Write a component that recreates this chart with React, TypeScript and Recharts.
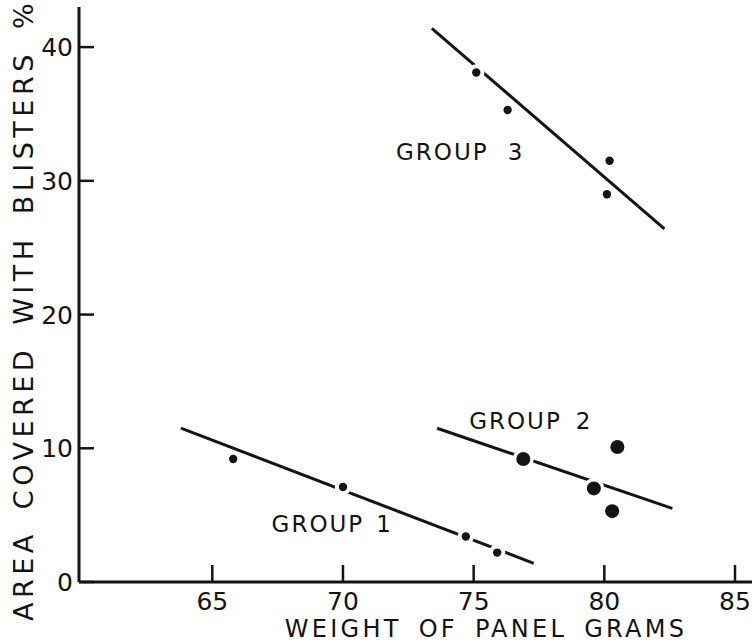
import React from 'react';
import { ScatterChart, Scatter, XAxis, YAxis, ReferenceDot, Label } from 'recharts';

// panel weight (g) vs. area covered with blisters (%)
const group1Weight = [65.8, 70.0, 74.7, 75.9];
const group1Area = [9.2, 7.1, 3.4, 2.2];
const group2Weight = [76.9, 80.5, 79.6, 80.3];
const group2Area = [9.2, 10.1, 7.0, 5.3];
const group3Weight = [75.1, 76.3, 80.2, 80.1];
const group3Area = [38.1, 35.3, 31.5, 29.0];

// end points of the fitted lines
const fit1Weight = [63.8, 77.3];
const fit1Area = [11.5, 1.4];
const fit2Weight = [73.6, 82.6];
const fit2Area = [11.5, 5.5];
const fit3Weight = [73.4, 82.3];
const fit3Area = [41.4, 26.4];

const xTicks = [65, 70, 75, 80, 85];
const yTicks = [0, 10, 20, 30, 40];

const groupLabels = [
  { name: 'GROUP', num: '1', weight: 67.27, area: 3.76, gap: 12 },
  { name: 'GROUP', num: '2', weight: 74.83, area: 11.41, gap: 14 },
  { name: 'GROUP', num: '3', weight: 72.03, area: 31.56, gap: 19 },
];

const toRows = (xs: number[], ys: number[]) => xs.map((weight, i) => ({ weight, area: ys[i] }));

const INK = '#141414';
const FONT = '"DejaVu Sans", sans-serif';

// white rim cuts the fitted line where a point sits on it
const SmallDot = (p: any) => (
  <circle cx={p.cx} cy={p.cy} r={4.2} fill={INK} stroke="#fff" strokeWidth={8} style={{ paintOrder: 'stroke' }} />
);

const BigDot = (p: any) => (
  <circle cx={p.cx} cy={p.cy} r={7} fill={INK} stroke="#fff" strokeWidth={7} style={{ paintOrder: 'stroke' }} />
);

const NoDot = () => <g />;

const XTick = ({ x, y, payload }: any) => (
  <g>
    <line x1={x} x2={x} y1={y - 10} y2={y - 27} stroke={INK} strokeWidth={2.5} />
    <text x={x} y={y + 18} textAnchor="middle" fontSize={25} fontFamily={FONT} fill={INK}>
      {payload.value}
    </text>
  </g>
);

const YTick = ({ x, y, payload }: any) => (
  <g>
    <line x1={x + 6} x2={x + 21} y1={y} y2={y} stroke={INK} strokeWidth={2.5} />
    <text x={x} y={y + 9} textAnchor="end" fontSize={25} fontFamily={FONT} fill={INK}>
      {payload.value}
    </text>
  </g>
);

const GroupLabel = (item: (typeof groupLabels)[number]) => (p: any) => (
  <text x={p.cx} y={p.cy} fontSize={23} fontFamily={FONT} fill={INK} letterSpacing={2}>
    <tspan>{item.name}</tspan>
    <tspan dx={item.gap}>{item.num}</tspan>
  </text>
);

const XTitle = () => (
  <text x={486} y={637} textAnchor="middle" fontSize={24} fontFamily={FONT} fill={INK} letterSpacing={3.3} wordSpacing={6}>
    WEIGHT OF PANEL GRAMS
  </text>
);

const YTitle = () => (
  <text
    x={33}
    y={310}
    transform="rotate(-90 33 310)"
    textAnchor="middle"
    fontSize={27}
    fontFamily={FONT}
    fill={INK}
    letterSpacing={4.5}
    wordSpacing={8}
  >
    AREA COVERED WITH BLISTERS %
  </text>
);

export default function App() {
  return (
    <div style={{ position: 'absolute', left: 0, top: 0, background: '#fff' }}>
      <ScatterChart width={752} height={642} margin={{ top: 7, right: 0, bottom: 0, left: 0 }}>
        <XAxis
          type="number"
          dataKey="weight"
          domain={[59.9, 85.65]}
          ticks={xTicks}
          allowDataOverflow
          height={60}
          tickSize={0}
          tickMargin={10}
          tick={<XTick />}
          axisLine={{ stroke: INK, strokeWidth: 3 }}
        >
          <Label content={<XTitle />} />
        </XAxis>
        <YAxis
          type="number"
          dataKey="area"
          domain={[0, 43]}
          ticks={yTicks}
          allowDataOverflow
          width={79}
          tickSize={0}
          tickMargin={6}
          tick={<YTick />}
          axisLine={{ stroke: INK, strokeWidth: 3 }}
        >
          <Label content={<YTitle />} />
        </YAxis>

        <Scatter data={toRows(fit1Weight, fit1Area)} line={{ stroke: INK, strokeWidth: 3 }} shape={NoDot} isAnimationActive={false} />
        <Scatter data={toRows(fit2Weight, fit2Area)} line={{ stroke: INK, strokeWidth: 3 }} shape={NoDot} isAnimationActive={false} />
        <Scatter data={toRows(fit3Weight, fit3Area)} line={{ stroke: INK, strokeWidth: 3 }} shape={NoDot} isAnimationActive={false} />

        <Scatter data={toRows(group1Weight, group1Area)} shape={SmallDot} isAnimationActive={false} />
        <Scatter data={toRows(group2Weight, group2Area)} shape={BigDot} isAnimationActive={false} />
        <Scatter data={toRows(group3Weight, group3Area)} shape={SmallDot} isAnimationActive={false} />

        {groupLabels.map((g) => (
          <ReferenceDot key={g.num} x={g.weight} y={g.area} r={0} shape={GroupLabel(g)} />
        ))}
      </ScatterChart>
    </div>
  );
}
